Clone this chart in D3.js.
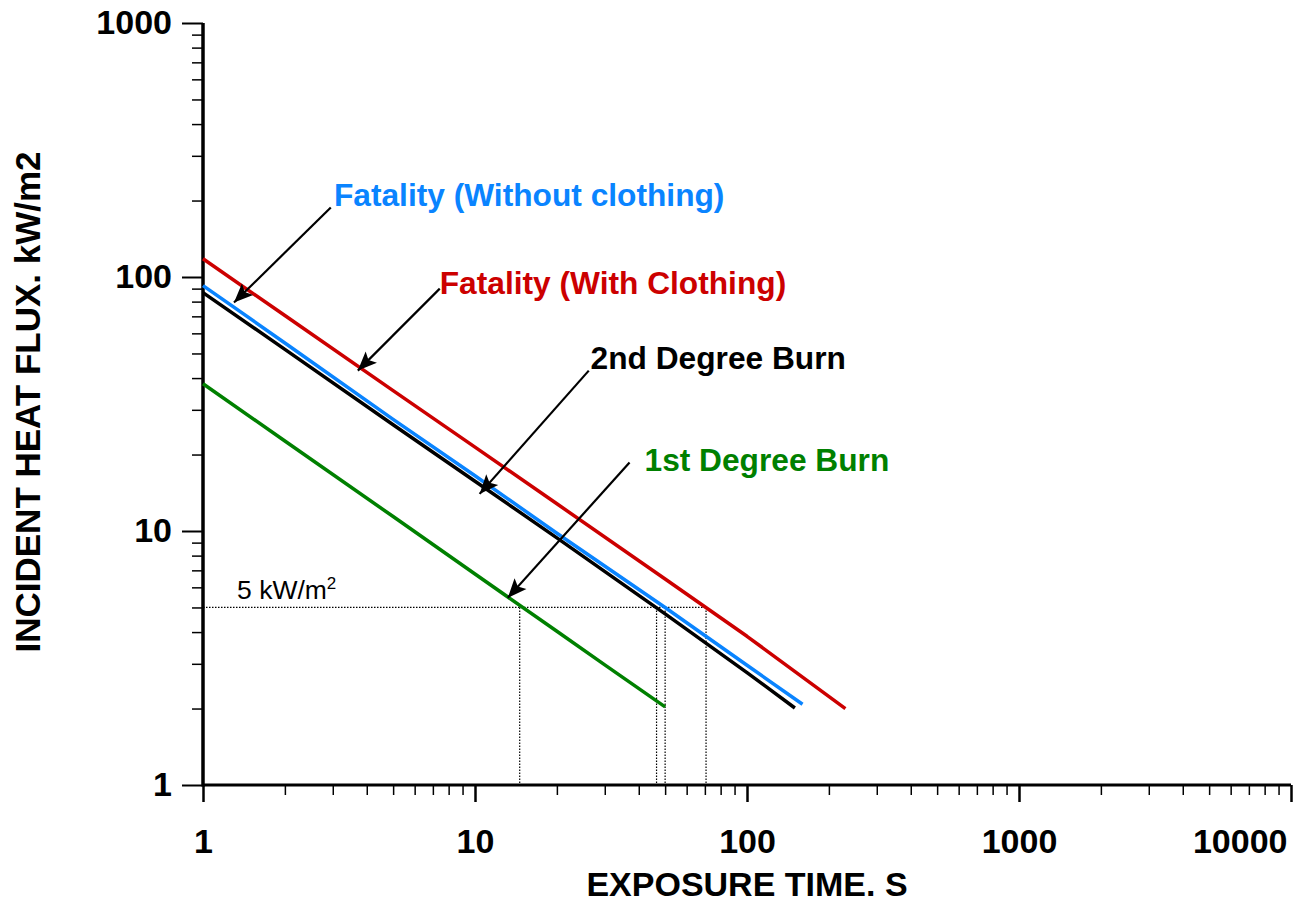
<!DOCTYPE html>
<html>
<head>
<meta charset="utf-8">
<script src="https://cdn.jsdelivr.net/npm/d3@7/dist/d3.min.js"></script>
<style>
  html, body { margin: 0; padding: 0; background: #fff; }
  svg { display: block; font-family: "Liberation Sans", Arial, Helvetica, sans-serif; }
</style>
</head>
<body>
<svg id="chart" width="1306" height="905"></svg>
<script>
// ---- data ----
const timeRed   = [1, 2, 5, 10, 20, 50, 100, 230];
const fatalityWithClothing    = [118, 70.5, 35.7, 21.4, 12.8, 6.47, 3.85, 2.0];
const timeBlue  = [1, 2, 5, 10, 20, 50, 100, 160];
const fatalityWithoutClothing = [92.5, 55, 27.5, 16.5, 9.8, 5.0, 2.96, 2.08];
const timeBlack = [1, 2, 5, 10, 20, 50, 100, 150];
const secondDegreeBurn        = [86.8, 51.9, 26.2, 15.7, 9.4, 4.72, 2.77, 2.01];
const timeGreen = [1, 2, 5, 10, 20, 30, 50];
const firstDegreeBurn         = [38, 22.6, 11.4, 6.77, 4.03, 2.97, 2.03];

const refFlux = 5;                          // 5 kW/m2 reference line
const refTimes = [14.6, 46.5, 50, 70.7];    // exposure times at 5 kW/m2

const xMajorTicks = [1, 10, 100, 1000, 10000];
const yMajorTicks = [1, 10, 100, 1000];
const xTickLabels = ["1", "10", "100", "1000", "10000"];
const yTickLabels = ["1", "10", "100", "1000"];

const xTitle = "EXPOSURE TIME. S";
const yTitle = "INCIDENT HEAT FLUX. kW/m2";

// annotation labels
const labelTexts  = ["Fatality (Without clothing)", "Fatality (With Clothing)", "2nd Degree Burn", "1st Degree Burn"];
const labelT      = [3.03, 7.42, 26.6, 42.0];
const labelQ      = [191, 86, 43.6, 17.3];
// arrows: from (t0,q0) to (t1,q1)
const arrowT0 = [2.95, 7.42, 26.2, 37.0];
const arrowQ0 = [187.7, 90, 42.8, 18.6];
const arrowT1 = [1.30, 3.71, 10.4, 13.2];
const arrowQ1 = [79.3, 42.8, 14.0, 5.46];

// ---- drawing ----
const colors = { red: "#cc0000", blue: "#0a84ff", black: "#000000", green: "#008000" };
const labelColors = [colors.blue, colors.red, colors.black, colors.green];
const FONT = "Liberation Sans, Arial, sans-serif";

const svg = d3.select("#chart");
const x = d3.scaleLog().domain([1, 10000]).range([203, 1291]);
const y = d3.scaleLog().domain([1, 1000]).range([785, 23]);

const minorX = [];
for (let d = 1; d < 10000; d *= 10) for (let k = 2; k <= 9; k++) minorX.push(d * k);
const minorY = [];
for (let d = 1; d < 1000; d *= 10) for (let k = 2; k <= 9; k++) minorY.push(d * k);

// minor ticks
svg.append("g").attr("transform", `translate(0,${y(1)})`)
  .call(d3.axisBottom(x).tickValues(minorX).tickSize(10).tickFormat(""))
  .call(g => g.select(".domain").remove())
  .call(g => g.selectAll("line").attr("stroke", "#000").attr("stroke-width", 1.5));
svg.append("g").attr("transform", `translate(${x(1)},0)`)
  .call(d3.axisLeft(y).tickValues(minorY).tickSize(11).tickFormat(""))
  .call(g => g.select(".domain").remove())
  .call(g => g.selectAll("line").attr("stroke", "#000").attr("stroke-width", 1.5));

// major ticks + labels
svg.append("g").attr("transform", `translate(0,${y(1)})`)
  .call(d3.axisBottom(x).tickValues(xMajorTicks).tickSize(17).tickPadding(27)
        .tickFormat((d, i) => xTickLabels[i]))
  .call(g => g.select(".domain").remove())
  .call(g => g.selectAll("line").attr("stroke", "#000").attr("stroke-width", 2.5))
  .call(g => g.selectAll("text").attr("fill", "#000").attr("font-size", 34)
        .attr("font-weight", "bold").attr("font-family", FONT)
        .attr("text-anchor", (d, i) => i === xMajorTicks.length - 1 ? "end" : "middle")
        .attr("dx", (d, i) => i === xMajorTicks.length - 1 ? -4 : 0));
svg.append("g").attr("transform", `translate(${x(1)},0)`)
  .call(d3.axisLeft(y).tickValues(yMajorTicks).tickSize(21).tickPadding(10)
        .tickFormat((d, i) => yTickLabels[i]))
  .call(g => g.select(".domain").remove())
  .call(g => g.selectAll("line").attr("stroke", "#000").attr("stroke-width", 2))
  .call(g => g.selectAll("text").attr("fill", "#000").attr("font-size", 34)
        .attr("font-weight", "bold").attr("font-family", FONT));

// axis lines
svg.append("line").attr("x1", x(1)).attr("x2", x(10000)).attr("y1", y(1)).attr("y2", y(1))
  .attr("stroke", "#000").attr("stroke-width", 3);
svg.append("line").attr("x1", x(1)).attr("x2", x(1)).attr("y1", y(1) + 1.5).attr("y2", y(1000))
  .attr("stroke", "#000").attr("stroke-width", 3.5);

// reference dotted lines
const dotted = svg.append("g").attr("stroke", "#000").attr("stroke-width", 1.2)
  .attr("stroke-dasharray", "1.5,1.5").attr("fill", "none");
dotted.append("line").attr("x1", x(1)).attr("x2", x(d3.max(refTimes)))
  .attr("y1", y(refFlux)).attr("y2", y(refFlux));
refTimes.forEach(t => {
  dotted.append("line").attr("x1", x(t)).attr("x2", x(t)).attr("y1", y(refFlux)).attr("y2", y(1));
});

// curves
const line = d3.line().x(d => x(d[0])).y(d => y(d[1]));
const series = [
  [timeRed, fatalityWithClothing, colors.red],
  [timeGreen, firstDegreeBurn, colors.green],
  [timeBlack, secondDegreeBurn, colors.black],
  [timeBlue, fatalityWithoutClothing, colors.blue]
];
series.forEach(([ts, vs, c]) => {
  svg.append("path").datum(ts.map((t, i) => [t, vs[i]]))
    .attr("d", line).attr("fill", "none").attr("stroke", c)
    .attr("stroke-width", 3.5).attr("stroke-linejoin", "round");
});

// arrows
svg.append("defs").append("marker")
  .attr("id", "ah").attr("markerUnits", "userSpaceOnUse")
  .attr("viewBox", "-20 -9 22 18").attr("refX", 0).attr("refY", 0)
  .attr("markerWidth", 22).attr("markerHeight", 18).attr("orient", "auto")
  .append("path").attr("d", "M0,0 L-19,-8 L-15,0 L-19,8 Z").attr("fill", "#000");
arrowT0.forEach((t0, i) => {
  svg.append("line")
    .attr("x1", x(t0)).attr("y1", y(arrowQ0[i]))
    .attr("x2", x(arrowT1[i])).attr("y2", y(arrowQ1[i]))
    .attr("stroke", "#000").attr("stroke-width", 2.2).attr("marker-end", "url(#ah)");
});

// labels
labelTexts.forEach((txt, i) => {
  svg.append("text").attr("x", x(labelT[i])).attr("y", y(labelQ[i]))
    .attr("fill", labelColors[i]).attr("font-size", 31.7).attr("font-weight", "bold")
    .text(txt);
});

// 5 kW/m2 label
const refLbl = svg.append("text").attr("x", x(1.334)).attr("y", y(5.4))
  .attr("font-size", 26.5).attr("fill", "#000");
refLbl.append("tspan").text("5 kW/m");
refLbl.append("tspan").attr("font-size", 17).attr("dy", -10).text("2");

// axis titles
svg.append("text").attr("x", x(100)).attr("y", 896).attr("text-anchor", "middle")
  .attr("font-size", 34).attr("font-weight", "bold").attr("fill", "#000").text(xTitle);
svg.append("text").attr("transform", `translate(40,402) rotate(-90)`)
  .attr("text-anchor", "middle")
  .attr("font-size", 35).attr("font-weight", "bold").attr("fill", "#000").text(yTitle);
</script>
</body>
</html>
